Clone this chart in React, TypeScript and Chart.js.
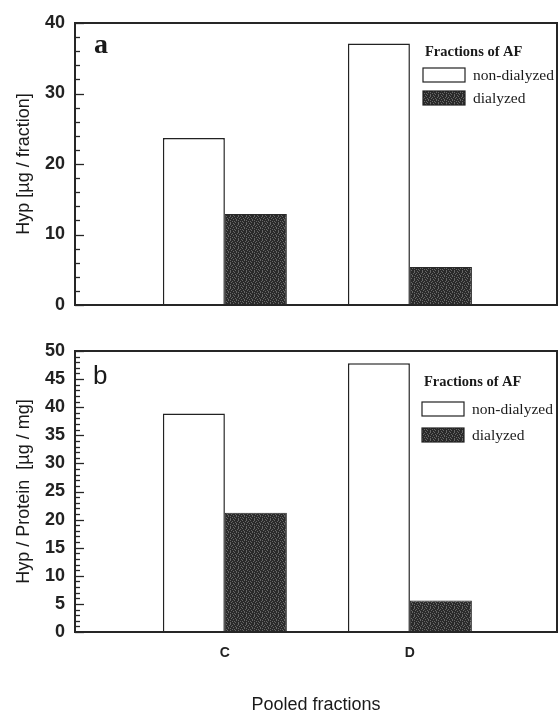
import React, { useEffect, useRef } from 'react';
import { Chart, registerables } from 'chart.js';

Chart.register(...registerables);

// ---- data ----
const categories = ['C', 'D'];
const categoryPositions = [0, 1];
const seriesLabels = ['non-dialyzed', 'dialyzed'];
const legendTitle = 'Fractions of AF';

const hypPerFractionNonDialyzed = [23.7, 37.1];
const hypPerFractionDialyzed = [12.9, 5.4];
const hypPerProteinNonDialyzed = [38.9, 47.8];
const hypPerProteinDialyzed = [21.2, 5.6];

const topTicks = [0, 10, 20, 30, 40];
const bottomTicks = [0, 5, 10, 15, 20, 25, 30, 35, 40, 45, 50];

const topTitle = 'Hyp [µg / fraction]';
const bottomTitle = 'Hyp / Protein  [µg / mg]';
const xTitle = 'Pooled fractions';

const SANS = '"Liberation Sans", Arial, sans-serif';
const SERIF = '"Liberation Serif", "Times New Roman", serif';

function makePattern(): CanvasPattern | string {
  const rows = [
    '..#...#.',
    '#....#..',
    '...#...#',
    '.#..#...',
    '....#.#.',
    '#.#.....',
    '...#..#.',
    '.#....#.',
  ];
  const c = document.createElement('canvas');
  c.width = 8;
  c.height = 8;
  const g = c.getContext('2d');
  if (!g) return '#333';
  g.fillStyle = '#2a2a2a';
  g.fillRect(0, 0, 8, 8);
  g.fillStyle = '#666666';
  rows.forEach((r, y) =>
    r.split('').forEach((ch, x) => {
      if (ch === '#') g.fillRect(x, y, 1, 1);
    })
  );
  return g.createPattern(c, 'repeat') || '#333';
}

const decorPlugin = {
  id: 'decor',
  afterDatasetsDraw(chart: any, _args: any, opts: any) {
    const { ctx, chartArea: a } = chart;
    const y = chart.scales.y;
    ctx.save();
    // frame
    ctx.strokeStyle = '#262626';
    ctx.lineWidth = 2;
    ctx.strokeRect(a.left, a.top, a.right - a.left, a.bottom - a.top);
    // inward ticks
    ctx.lineWidth = 1.3;
    const n = Math.round((y.max - y.min) / opts.minorStep);
    for (let k = 0; k <= n; k++) {
      const v = y.min + k * opts.minorStep;
      const py = Math.round(y.getPixelForValue(v)) + 0.5;
      const r = v / opts.majorStep;
      const major = Math.abs(r - Math.round(r)) < 1e-6;
      const len = major ? 9 : 5;
      ctx.beginPath();
      ctx.moveTo(a.left, py);
      ctx.lineTo(a.left + len, py);
      ctx.stroke();
    }
    // panel letter
    ctx.fillStyle = '#1a1a1a';
    ctx.font = opts.panelFont;
    ctx.textAlign = 'left';
    ctx.textBaseline = 'alphabetic';
    ctx.fillText(opts.panel, opts.panelX, a.top + opts.panelDy);
    // legend
    ctx.font = `bold 14.5px ${SERIF}`;
    ctx.textBaseline = 'middle';
    ctx.fillText(legendTitle, opts.legendX + 2, a.top + opts.titleDy);
    chart.data.datasets.forEach((ds: any, i: number) => {
      const top = a.top + opts.boxDy[i];
      ctx.fillStyle = ds.backgroundColor;
      ctx.fillRect(opts.legendX, top, 42, 14);
      ctx.strokeStyle = '#222';
      ctx.lineWidth = 1.2;
      ctx.strokeRect(opts.legendX, top, 42, 14);
      ctx.fillStyle = '#1a1a1a';
      ctx.font = `15.5px ${SERIF}`;
      ctx.fillText(ds.label, opts.legendX + 50, top + 8);
    });
    ctx.restore();
  },
};

function buildConfig(opts: {
  nonDial: number[];
  dial: number[];
  ticks: number[];
  max: number;
  title: string;
  showX: boolean;
  pattern: any;
  decor: any;
  padding: any;
}) {
  const yFont = { family: SANS, size: 18, weight: 'bold' as const };
  return {
    type: 'bar' as const,
    data: {
      datasets: [
        {
          label: seriesLabels[0],
          data: categoryPositions.map((x, i) => ({ x, y: opts.nonDial[i] })),
          backgroundColor: '#ffffff',
          borderColor: '#222222',
          borderWidth: 1.5,
        },
        {
          label: seriesLabels[1],
          data: categoryPositions.map((x, i) => ({ x, y: opts.dial[i] })),
          backgroundColor: opts.pattern,
          borderColor: '#2a2a2a',
          borderWidth: 1,
        },
      ],
    },
    options: {
      animation: false as const,
      responsive: false,
      maintainAspectRatio: false,
      devicePixelRatio: 1,
      layout: { padding: opts.padding },
      datasets: { bar: { categoryPercentage: 0.67, barPercentage: 1.0 } },
      plugins: {
        legend: { display: false },
        tooltip: { enabled: false },
        decor: opts.decor,
      },
      scales: {
        x: {
          type: 'linear' as const,
          min: -0.81,
          max: 1.795,
          offset: false,
          display: opts.showX,
          grid: { display: false, drawTicks: false },
          border: { display: false },
          afterBuildTicks: (s: any) => {
            s.ticks = categoryPositions.map((v) => ({ value: v }));
          },
          afterFit: (s: any) => {
            s.height = opts.showX ? 84 : 0;
            s.paddingLeft = 0;
            s.paddingRight = 0;
          },
          ticks: {
            autoSkip: false,
            padding: 13,
            color: '#222',
            font: { family: SANS, size: 14, weight: 'bold' as const },
            callback: (v: any) => categories[categoryPositions.indexOf(Number(v))] ?? '',
          },
          title: {
            display: true,
            text: xTitle,
            color: '#1a1a1a',
            font: { family: SANS, size: 18 },
            padding: { top: 0, bottom: 0 },
          },
        },
        y: {
          min: 0,
          max: opts.max,
          grid: { display: false, drawTicks: false },
          border: { display: false },
          afterBuildTicks: (s: any) => {
            s.ticks = opts.ticks.map((v) => ({ value: v }));
          },
          afterFit: (s: any) => {
            s.width = 75;
            s.paddingTop = 0;
            s.paddingBottom = 0;
          },
          ticks: { padding: 10, color: '#222', font: yFont },
          title: {
            display: true,
            text: opts.title,
            color: '#1a1a1a',
            font: { family: SANS, size: 18 },
            padding: { top: 13, bottom: 0 },
          },
        },
      },
    },
    plugins: [decorPlugin],
  };
}

function Panel(props: { top: number; height: number; which: 'a' | 'b' }) {
  const ref = useRef<HTMLCanvasElement>(null);
  useEffect(() => {
    if (!ref.current) return;
    const pattern = makePattern();
    const isTop = props.which === 'a';
    const cfg = isTop
      ? buildConfig({
          nonDial: hypPerFractionNonDialyzed,
          dial: hypPerFractionDialyzed,
          ticks: topTicks,
          max: 40,
          title: topTitle,
          showX: false,
          pattern,
          padding: { top: 23, bottom: 15, left: 0, right: 2 },
          decor: {
            minorStep: 2,
            majorStep: 10,
            panel: 'a',
            panelFont: `bold 28px ${SERIF}`,
            panelX: 94,
            panelDy: 30,
            legendX: 423,
            titleDy: 29,
            boxDy: [45, 68],
          },
        })
      : buildConfig({
          nonDial: hypPerProteinNonDialyzed,
          dial: hypPerProteinDialyzed,
          ticks: bottomTicks,
          max: 50,
          title: bottomTitle,
          showX: true,
          pattern,
          padding: { top: 31, bottom: 0, left: 0, right: 2 },
          decor: {
            minorStep: 1,
            majorStep: 5,
            panel: 'b',
            panelFont: `26px ${SANS}`,
            panelX: 93,
            panelDy: 33,
            legendX: 422,
            titleDy: 31,
            boxDy: [51, 77],
          },
        });
    const chart = new Chart(ref.current, cfg as any);
    return () => chart.destroy();
  }, []);
  return (
    <canvas
      ref={ref}
      width={559}
      height={props.height}
      style={{ position: 'absolute', left: 0, top: props.top, width: 559, height: props.height }}
    />
  );
}

export default function App() {
  return (
    <div style={{ position: 'absolute', left: 0, top: 0, width: 559, height: 716, background: '#fff' }}>
      <Panel top={0} height={320} which="a" />
      <Panel top={320} height={396} which="b" />
    </div>
  );
}
